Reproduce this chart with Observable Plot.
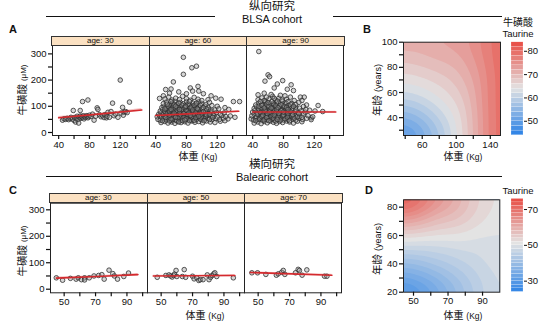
<!DOCTYPE html>
<html><head><meta charset="utf-8">
<script src="https://cdn.jsdelivr.net/npm/d3@7"></script>
<script src="https://cdn.jsdelivr.net/npm/@observablehq/plot@0.6"></script>
<style>
body{margin:0;background:#fff;}
#root{position:relative;width:553px;height:325px;overflow:hidden;background:#fff;font-family:"Liberation Sans","Noto Sans CJK SC",sans-serif;color:#111;}
.t{position:absolute;transform:translate(-50%,-50%);white-space:nowrap;line-height:1;}
.rot{transform:translate(-50%,-50%) rotate(-90deg);}
.hr{position:absolute;height:0;border-top:1.3px solid #111;}
.strip{position:absolute;background:#fbe1c2;border:1px solid #333;box-sizing:border-box;font-size:8px;display:flex;align-items:center;justify-content:center;line-height:1;}
.letter{position:absolute;font-weight:bold;font-size:11px;transform:translate(-50%,-50%);line-height:1;}
svg{position:absolute;}
</style></head><body><div id="root"></div>
<script>
// ---------------- DATA ----------------
const agesA = [30, 60, 90];
const agesC = [30, 50, 70];
const xTicksA = [40, 60, 80, 100, 120, 140];
const xLabelsA = [40, 80, 120];
const xTicksC = [50, 60, 70, 80, 90, 100];
const xLabelsC = [50, 70, 90];
const yTicksAC = [0, 50, 100, 150, 200, 250, 300];
const yLabelsAC = [0, 100, 200, 300];

// BLSA age 30
const ptsA30 = [[45,47],[47,52],[49,50],[51,54],[53,49],[55,53],[56,58],[58,51],[59,84],[60,46],[61,57],[62,40],[63,55],[64,62],[65,50],[66,36],[67,58],[68,63],[68,84],[69,54],[70,60],[71,118],[71,57],[72,64],[73,52],[74,60],[75,58],[76,64],[77,62],[78,124],[78,56],[79,60],[80,66],[82,61],[84,70],[86,47],[88,62],[90,94],[91,88],[93,68],[95,60],[97,64],[99,57],[100,68],[102,56],[103,62],[104,77],[106,58],[108,80],[110,112],[112,64],[114,70],[117,58],[120,200],[121,74],[123,96],[124,66],[125,78],[127,80],[129,76],[132,116]];
// BLSA age 60
const ptsA60 = [[76,287],[87,247],[93,253],[76,222],[63,193],[53,164],[60,166],[95,176],[85,170],[88,158],[96,158],[118,131],[141,118],[149,118],[143,58],[58,150],[70,155],[102,148],[112,140],[125,127],[130,95],[135,88],[120,100],[108,125],[45,130],[50,140],[80,148],
[47,38],[52,42],[56,36],[61,40],[65,35],[69,43],[73,38],[78,41],[82,36],[87,44],[91,39],[96,42],[101,37],[106,44],[111,40],[117,38],[124,43],[130,45],
[43,50],[46,47],[50,53],[54,48],[57,52],[60,46],[63,54],[66,49],[70,51],[73,47],[76,55],[79,50],[83,53],[86,48],[89,52],[93,50],[97,54],[100,48],[104,52],[108,55],[113,49],[118,53],[123,50],[128,55],[134,52],
[42,60],[45,64],[48,58],[51,62],[54,66],[57,59],[60,63],[63,57],[66,65],[68,60],[71,62],[74,58],[77,66],[80,61],[83,64],[86,57],[89,63],[92,66],[95,60],[98,64],[102,58],[105,62],[109,66],[112,60],[116,64],[120,59],[126,65],[131,61],[137,63],
[44,70],[47,75],[50,68],[53,73],[56,77],[59,71],[62,75],[65,69],[67,78],[70,72],[73,76],[76,70],[79,74],[82,78],[85,71],[88,75],[91,69],[94,77],[97,72],[100,76],[104,70],[107,74],[111,78],[115,72],[119,76],[124,70],[129,75],
[46,82],[49,88],[52,80],[55,85],[58,90],[61,83],[64,87],[67,81],[70,89],[73,84],[76,80],[79,88],[82,83],[85,86],[88,81],[91,89],[94,84],[97,80],[101,87],[105,83],[109,88],[113,82],[117,86],[122,90],
[48,95],[51,100],[54,93],[57,98],[60,103],[63,96],[66,92],[69,101],[72,97],[75,94],[78,103],[81,98],[84,92],[87,100],[90,95],[93,102],[96,97],[100,93],[104,100],[108,96],[113,103],
[50,110],[54,116],[58,107],[62,113],[65,119],[68,108],[72,115],[76,110],[80,118],[84,106],[88,113],[92,108],[96,117],[100,111],[105,106],[110,115],
[52,128],[57,135],[61,124],[66,131],[71,126],[75,138],[80,129],[85,123],[90,134],[95,127],[100,122],
[49,45],[53,57],[58,44],[62,50],[64,61],[67,45],[69,56],[72,68],[75,45],[77,61],[80,53],[81,69],[84,45],[87,60],[90,46],[92,57],[94,70],[98,51],[99,59],[103,45],[106,67],[110,50],[114,58],[55,72],[58,79],[61,68],[64,74],[68,85],[71,79],[74,88],[77,73],[80,84],[83,74],[86,92],[89,70],[92,80],[95,88],[99,70],[102,80],[106,90],[110,70],[52,90],[56,101],[60,88],[64,105],[68,95],[71,88],[74,105],[78,95],[82,108],[86,96],[90,104],[94,91],[98,104],[102,95],[55,108],[60,118],[66,100],[70,112],[79,100],[84,118],[93,112],[60,52],[66,58],[70,40],[78,48],[85,65],[96,62],[58,66],[88,86]];
// BLSA age 90
const ptsA90 = [[48,309],[60,220],[62,213],[56,196],[79,198],[68,170],[90,182],[93,160],[47,144],[55,150],[102,135],[107,135],[104,122],[125,103],[131,80],[116,56],[121,82],[110,105],[85,165],[72,185],
[42,36],[47,40],[51,34],[55,42],[59,37],[63,44],[67,39],[71,35],[75,42],[79,38],[84,44],[88,40],[93,36],[98,43],[104,41],
[38,52],[41,48],[44,55],[47,50],[50,57],[53,47],[56,53],[59,49],[62,56],[65,51],[68,47],[71,55],[74,50],[77,57],[80,48],[83,54],[86,49],[89,56],[92,51],[96,47],[100,55],[105,50],[110,54],[116,49],
[39,64],[42,70],[45,60],[48,67],[51,62],[54,71],[57,65],[60,60],[63,68],[66,63],[69,71],[72,61],[75,66],[78,70],[81,62],[84,68],[87,64],[90,71],[93,60],[97,67],[101,62],[106,70],[112,64],[118,60],
[40,78],[43,84],[46,75],[49,81],[52,86],[55,77],[58,83],[61,74],[64,80],[67,85],[70,76],[73,82],[76,78],[79,86],[82,74],[85,81],[88,77],[91,84],[95,79],[99,75],[103,83],[108,78],[114,85],
[42,92],[45,98],[48,89],[51,95],[54,100],[57,90],[60,96],[63,88],[66,94],[69,99],[72,91],[75,97],[78,89],[81,95],[85,92],[88,98],[92,90],[96,96],[101,93],[106,99],
[44,105],[48,112],[52,108],[56,115],[59,103],[63,110],[67,106],[71,114],[75,102],[79,109],[83,113],[87,104],[91,111],[96,107],[100,115],
[47,125],[52,132],[57,120],[61,128],[66,138],[70,123],[74,131],[79,119],[84,127],[89,135],[94,122],[64,145],[76,142],
[44,45],[49,52],[52,60],[55,48],[58,57],[61,45],[64,63],[67,54],[70,44],[73,58],[76,47],[79,64],[82,52],[85,59],[88,45],[91,63],[94,55],[98,60],[46,70],[50,76],[53,66],[56,82],[59,72],[62,86],[65,74],[68,66],[71,88],[74,72],[77,83],[80,67],[83,90],[86,72],[89,80],[92,68],[96,86],[48,100],[52,104],[55,94],[58,108],[61,100],[64,93],[67,110],[70,102],[73,95],[77,106],[81,100],[84,96],[89,108],[93,100],[50,118],[55,122],[60,114],[65,118],[72,120],[78,124],[86,118],[58,135],[68,130],[82,140],[62,78],[72,50],[80,78],[86,88],[100,72],[104,58],[109,88]];
// Balearic
const ptsC30 = [[45,43],[49,34],[54,41],[57.6,38],[59,43],[61,36],[63,43],[63,35],[66,43],[69,50],[72,52],[74,55],[75.5,38],[78.6,72],[81,59],[82,50],[84,38],[88,48],[91,61]];
const ptsC50 = [[47.5,45],[53,52],[55,54],[56,50],[57,46],[58,52],[58.5,57],[59.5,71],[60,48],[63.5,48],[64.7,74],[65.6,45],[70,49],[71,39],[72.7,43],[74,33],[75,36],[76.7,36],[79.4,54],[80.5,36],[81.5,45],[82.5,52],[83.5,58],[84.2,62],[85.4,48],[96,43]];
const ptsC70 = [[46,62],[49.6,62],[54.9,56],[61.6,53],[62.8,58],[65,64],[66,71],[67,56],[73.8,62],[75.5,75],[76.3,71],[78,53],[81,73],[92.3,49],[93.8,49]];

// fitted lines (x positions, fitted y, half-width of band)
const fitXA = [40, 95, 148];
const fitYA = [[56, 71, 86], [65, 73, 81], [78, 78, 78]];
const fitHA = [[5, 2.5, 6], [3, 1.5, 3], [3, 1.5, 3]];
const fitXC = [45, 71, 97];
const fitYC = [[42, 48, 55], [50, 51, 52], [63, 58, 53]];
const fitHC = [[4, 2.5, 4], [3, 2, 3.5], [3.5, 2, 3.5]];

// contour grids
const gridBx = [38, 60, 80, 100, 120, 140, 153];
const gridBy = [25, 40, 60, 80, 101];
const gridBv = [
  [47, 51, 57, 63, 70, 77, 81],
  [53, 56, 60, 64, 70, 77, 81],
  [62, 63, 65, 67, 71, 77, 81],
  [67, 68, 69, 70, 73, 77, 81],
  [72, 72, 73, 73, 75, 78, 80]];
const gridDx = [44, 55, 70, 85, 100];
const gridDy = [20, 35, 50, 65, 85.5];
const gridDv = [
  [26, 30, 37, 44, 49],
  [36, 38, 42, 46, 49],
  [46, 46, 47, 48, 50],
  [57, 56, 54, 52, 50],
  [76, 71, 63, 55, 51]];
const bandsB = d3.range(44, 84, 2);
const bandsD = d3.range(24, 76, 2);
const legendTicksB = [50, 60, 70, 80];
const legendTicksD = [30, 50, 70];

// ---------------- BUILD ----------------
const root = document.getElementById("root");
const FONT = '"Liberation Sans","Noto Sans CJK SC",sans-serif';
function put(el, left, top) { el.style.left = left + "px"; el.style.top = top + "px"; root.appendChild(el); return el; }
function text(html, x, y, size, cls = "t", extra = "") {
  const d = document.createElement("div"); d.className = cls; d.innerHTML = html;
  d.style.fontSize = size + "px"; if (extra) d.style.cssText += extra;
  return put(d, x, y);
}
function hr(x1, x2, y) { const d = document.createElement("div"); d.className = "hr"; d.style.width = (x2 - x1) + "px"; return put(d, x1, y); }

function rowsOf(ages, lists) { return ages.flatMap((age, i) => lists[i].map(([x, y]) => ({age, x, y}))); }
function fitsOf(ages, xs, ys, hs) { return ages.flatMap((age, i) => xs.map((x, j) => ({age, x, y: ys[i][j], lo: ys[i][j] - hs[i][j], hi: ys[i][j] + hs[i][j]}))); }

function facetPlot(o) {
  return Plot.plot({
    width: o.width, height: o.height, marginLeft: o.mL, marginRight: o.mR, marginTop: o.mT, marginBottom: o.mB,
    style: {background: "transparent", fontFamily: FONT, fontSize: "9.5px", color: "#111", overflow: "visible"},
    fx: {domain: o.ages, padding: 0, axis: null},
    x: {domain: o.xDomain},
    y: {domain: o.yDomain},
    marks: [
      Plot.areaY(o.fits, {fx: "age", x: "x", y1: "lo", y2: "hi", fill: "#e8797a", fillOpacity: 0.45}),
      Plot.dot(o.pts, {fx: "age", x: "x", y: "y", r: 2.3, fill: "#999", fillOpacity: 0.4, stroke: "#2e2e2e", strokeWidth: 0.8}),
      Plot.line(o.fits, {fx: "age", x: "x", y: "y", stroke: "#d42a2e", strokeWidth: 1.6}),
      Plot.frame({stroke: "#222", strokeWidth: 1}),
      Plot.axisX({ticks: o.xTicks, tickFormat: d => o.xLabels.includes(d) ? d : "", tickSize: 4, tickPadding: 1.5, label: null, strokeWidth: 1.2}),
      Plot.axisY({ticks: yTicksAC, tickFormat: d => yLabelsAC.includes(d) ? d : "", tickSize: 4, tickPadding: 2, label: null, strokeWidth: 1.2})
    ]
  });
}

function heatPlot(o) {
  const grid = o.gy.flatMap((y, i) => o.gx.map((x, j) => ({x, y, v: o.gv[i][j]})));
  return Plot.plot({
    width: o.width, height: o.height, marginLeft: o.mL, marginRight: o.mR, marginTop: o.mT, marginBottom: o.mB,
    style: {background: "transparent", fontFamily: FONT, fontSize: "9.5px", color: "#111", overflow: "visible"},
    x: {domain: o.xDomain}, y: {domain: o.yDomain},
    color: o.color,
    marks: [
      Plot.contour(grid, {x: "x", y: "y", fill: "v", interpolate: "barycentric", blur: 4, thresholds: o.bands, stroke: "none", clip: true}),
      Plot.frame({stroke: "#222", strokeWidth: 1}),
      Plot.axisX({ticks: o.xTicks, tickFormat: d => o.xLabels.includes(d) ? d : "", tickSize: 4, tickPadding: 1.5, label: null, strokeWidth: 1.2}),
      Plot.axisY({ticks: o.yTicks, tickFormat: d => o.yLabels.includes(d) ? d : "", tickSize: 4, tickPadding: 2, label: null, strokeWidth: 1.2})
    ]
  });
}

function legendPlot(o) {
  return Plot.plot({
    width: 45, height: o.height, marginLeft: 6, marginRight: 27, marginTop: o.mT, marginBottom: o.mB,
    style: {background: "transparent", fontFamily: FONT, fontSize: "9.5px", color: "#111", overflow: "visible"},
    x: {domain: [0, 1], axis: null}, y: {domain: o.domain, axis: null},
    color: o.color,
    marks: [
      Plot.rect(o.bands, {x1: 0, x2: 1, y1: d => d, y2: d => d + 2, fill: d => d, stroke: "#fff", strokeWidth: 0.3, strokeOpacity: 0.6, clip: true}),
      Plot.axisY({anchor: "right", ticks: o.ticks, tickSize: 3, tickPadding: 1, label: null})
    ]
  });
}

const colorB = {type: "linear", domain: [44, 63, 84], range: ["#3386e6", "#e3e3e3", "#e8433a"]};
const colorD = {type: "linear", domain: [23.5, 50, 76], range: ["#3386e6", "#e3e3e3", "#e8433a"]};

// Panel A
put(facetPlot({width: 350, height: 160, mL: 51, mR: 6, mT: 45, mB: 25, ages: agesA,
  xDomain: [32, 158], yDomain: [-11.5, 332], xTicks: xTicksA, xLabels: xLabelsA,
  pts: rowsOf(agesA, [ptsA30, ptsA60, ptsA90]), fits: fitsOf(agesA, fitXA, fitYA, fitHA)}), 0, 0);
// Panel C
put(facetPlot({width: 348, height: 165, mL: 49, mR: 6, mT: 42.7, mB: 32.7, ages: agesC,
  xDomain: [41.3, 103.1], yDomain: [-13.6, 325], xTicks: xTicksC, xLabels: xLabelsC,
  pts: rowsOf(agesC, [ptsC30, ptsC50, ptsC70]), fits: fitsOf(agesC, fitXC, fitYC, fitHC)}), 0, 160);
// Panel B
put(heatPlot({width: 135, height: 160, mL: 33, mR: 5, mT: 41.7, mB: 25, xDomain: [38, 152], yDomain: [25.8, 100],
  gx: gridBx, gy: gridBy, gv: gridBv, color: colorB, bands: bandsB,
  xTicks: [40, 60, 80, 100, 120, 140], xLabels: [60, 100, 140],
  yTicks: [30, 40, 50, 60, 70, 80, 90, 100], yLabels: [40, 60, 80, 100]}), 370, 0);
// Panel D
put(heatPlot({width: 135, height: 165, mL: 33, mR: 5.7, mT: 39.3, mB: 33.3, xDomain: [44.2, 100], yDomain: [20, 85.2],
  gx: gridDx, gy: gridDy, gv: gridDv, color: colorD, bands: bandsD,
  xTicks: [50, 60, 70, 80, 90], xLabels: [50, 70, 90],
  yTicks: [20, 30, 40, 50, 60, 70, 80], yLabels: [20, 40, 60, 80]}), 370, 160);
// Legends
put(legendPlot({height: 160, mT: 41.7, mB: 25, domain: [43.9, 83.9], bands: bandsB, ticks: legendTicksB, color: colorB}), 505, 0);
put(legendPlot({height: 165, mT: 38.3, mB: 32.7, domain: [23.5, 76], bands: bandsD, ticks: legendTicksD, color: colorD}), 505, 160);

// Strips
function strips(ages, x0, w, y, h) {
  ages.forEach((a, i) => {
    const d = document.createElement("div"); d.className = "strip"; d.textContent = "age: " + a;
    d.style.width = (w + 1) + "px"; d.style.height = h + "px";
    put(d, x0 + i * w, y);
  });
}
strips(agesA, 51, 97.67, 36, 10);
strips(agesC, 49, 97.67, 193.3, 10);

// Titles and rules
text("纵向研究", 272, 6.5, 11.5);
text("BLSA cohort", 272, 18.5, 11, "t", "letter-spacing:-0.1px;");
hr(46, 215, 16);
hr(333, 502, 16);
text("横向研究", 272, 165, 11.5);
text("Balearic cohort", 272, 177, 11, "t", "letter-spacing:-0.1px;");
hr(46, 212, 175.5);
hr(336, 502, 175.5);

// Panel letters
text("A", 13, 29, 11, "letter");
text("B", 367, 29, 11, "letter");
text("C", 13, 189.5, 11, "letter");
text("D", 369, 189.5, 11, "letter");

// Axis titles
const yLab = '牛磺酸 <span style="font-size:8px">(μM)</span>';
const xLab = '体重 <span style="font-size:8.5px">(Kg)</span>';
const ageLab = '年龄 <span style="font-size:9px">(years)</span>';
text(yLab, 22, 90, 10.5, "t rot");
text(yLab, 22, 251, 10.5, "t rot");
text(xLab, 198, 156.5, 10);
text(xLab, 205, 316, 10);
text(ageLab, 377, 90, 10.5, "t rot");
text(ageLab, 377, 249, 10.5, "t rot");
text(xLab, 463, 156.5, 10);
text(xLab, 463, 316, 10);

// Legend titles
text("牛磺酸", 518, 22.5, 10);
text("Taurine", 518, 33.5, 9.5);
text("Taurine", 518, 191, 9.5);
</script></body></html>
